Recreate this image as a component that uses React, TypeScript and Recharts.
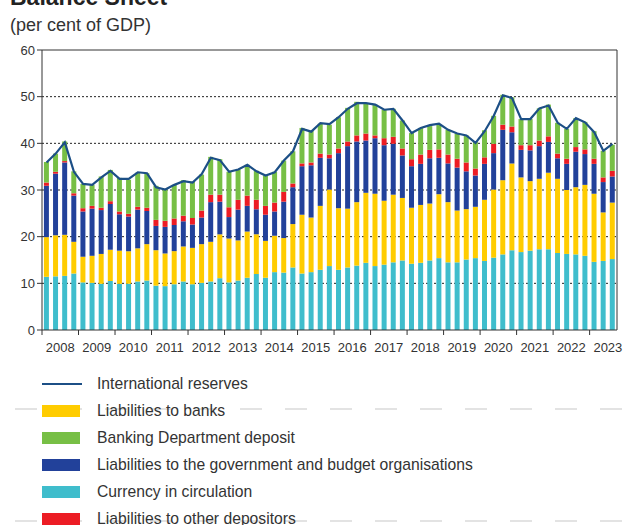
import React from "react";
import {
  ComposedChart,
  Bar,
  Line,
  XAxis,
  YAxis,
  CartesianGrid,
  ReferenceLine,
} from "recharts";

const years = [2008, 2009, 2010, 2011, 2012, 2013, 2014, 2015, 2016, 2017, 2018, 2019, 2020, 2021, 2022, 2023];
const quarters: string[] = [];
years.forEach((y) => {
  const n = y === 2023 ? 3 : 4;
  for (let q = 1; q <= n; q++) quarters.push(`${y}Q${q}`);
});

// per cent of GDP
const currency = [
  11.4, 11.5, 11.6, 12.1, 10.2, 10.1, 9.9, 10.5, 9.9, 9.9, 10.4, 10.6, 9.5, 9.4, 9.8, 10.4,
  9.8, 10.1, 10.4, 11.1, 10.2, 10.6, 11.2, 12.0, 11.2, 12.4, 12.3, 13.4, 12.1, 12.4, 12.9, 13.7,
  12.9, 13.4, 13.8, 14.4, 13.7, 14.0, 14.5, 14.9, 14.2, 14.4, 14.9, 15.4, 14.5, 14.5, 15.1, 15.4,
  14.8, 15.5, 16.2, 17.1, 16.7, 17.0, 17.3, 17.3, 16.5, 16.3, 16.2, 15.9, 14.6, 14.8, 15.2,
];
const banks = [
  8.5, 8.8, 8.8, 6.8, 5.5, 5.8, 6.4, 6.7, 7.1, 7.0, 7.1, 7.8, 7.6, 7.0, 7.1, 7.5,
  7.8, 8.3, 8.5, 9.4, 9.4, 8.6, 9.9, 8.5, 7.9, 7.8, 7.4, 9.3, 12.6, 11.7, 13.7, 16.4,
  13.2, 12.6, 13.6, 15.0, 15.5, 13.7, 14.5, 13.4, 12.0, 12.4, 12.2, 13.7, 12.9, 11.1, 10.8, 11.0,
  13.1, 14.6, 15.9, 18.6, 16.0, 14.9, 15.1, 16.4, 15.9, 13.7, 14.4, 15.2, 14.6, 10.4, 12.1,
];
const government = [
  11.0, 13.2, 15.5, 9.9, 9.7, 10.1, 9.4, 9.8, 7.8, 7.4, 8.3, 7.1, 5.2, 5.7, 5.6, 5.4,
  5.0, 5.7, 8.5, 7.0, 4.6, 6.6, 5.5, 5.4, 5.6, 5.2, 7.8, 7.9, 10.4, 11.2, 10.3, 6.7,
  11.8, 13.4, 13.0, 11.2, 11.9, 11.9, 10.9, 9.1, 8.9, 8.8, 9.7, 7.8, 8.3, 9.2, 8.1, 6.7,
  7.7, 7.8, 10.8, 6.7, 5.9, 6.6, 7.0, 6.6, 4.4, 5.6, 7.6, 6.6, 6.4, 6.5, 5.6,
];
const otherDepositors = [
  0.7, 0.4, 0.3, 0.5, 0.7, 0.6, 0.5, 0.6, 0.6, 0.6, 0.6, 0.7, 1.3, 1.3, 1.4, 1.2,
  1.4, 1.5, 1.6, 1.5, 2.1, 2.1, 2.2, 2.0, 1.9, 1.9, 2.1, 0.8, 0.6, 0.6, 0.9, 0.8,
  1.0, 1.0, 1.3, 1.5, 0.6, 1.5, 1.5, 1.5, 1.5, 2.0, 1.8, 1.8, 1.9, 1.9, 1.9, 1.5,
  1.4, 2.0, 1.1, 1.2, 1.0, 1.1, 1.2, 1.2, 1.0, 1.1, 1.0, 1.0, 1.1, 1.0, 1.2,
];
const bankingDept = [
  4.4, 3.9, 4.2, 4.7, 5.2, 4.5, 6.7, 6.7, 7.2, 7.3, 7.3, 7.4, 7.3, 6.7, 7.2, 7.6,
  7.8, 7.7, 8.1, 7.6, 7.6, 6.5, 6.6, 6.2, 6.5, 6.6, 6.7, 6.9, 7.6, 6.8, 6.4, 6.4,
  6.7, 7.2, 7.2, 6.5, 6.6, 6.1, 6.0, 6.0, 5.6, 5.7, 5.1, 5.4, 5.3, 5.4, 5.8, 5.7,
  5.8, 6.0, 6.4, 6.3, 5.6, 5.6, 6.9, 6.8, 6.6, 6.4, 6.2, 5.9, 5.9, 5.7, 5.6,
];
const reserves = [
  35.9, 37.8, 40.2, 33.9, 31.3, 31.1, 32.7, 34.1, 32.4, 32.4, 33.8, 33.6, 30.6, 30.1, 31.1, 31.9,
  31.6, 33.4, 36.9, 36.4, 33.9, 34.4, 35.4, 34.0, 33.1, 33.8, 36.3, 38.3, 43.1, 42.5, 44.3, 44.1,
  45.6, 47.4, 48.6, 48.6, 48.3, 47.2, 47.4, 44.9, 42.2, 43.3, 43.9, 44.2, 42.9, 42.1, 41.7, 40.1,
  42.6, 45.9, 50.3, 49.7, 45.2, 45.2, 47.5, 48.1, 44.4, 43.1, 45.4, 44.5, 42.4, 38.4, 39.9,
];

const yTicks = [0, 10, 20, 30, 40, 50, 60];

const data = quarters.map((q, i) => ({
  q,
  currency: currency[i],
  banks: banks[i],
  government: government[i],
  other: otherDepositors[i],
  bankingDept: bankingDept[i],
  reserves: reserves[i],
}));

const FONT = '"Liberation Sans", Arial, sans-serif';
const TXT = "#333";
const PLOT_LEFT = 42;
const PLOT_RIGHT = 617;
const BAND = (PLOT_RIGHT - PLOT_LEFT) / quarters.length;

const legendItems = [
  { label: "International reserves", color: "#1c4f86", line: true },
  { label: "Liabilities to banks", color: "#ffcc00" },
  { label: "Banking Department deposit", color: "#77bf45" },
  { label: "Liabilities to the government and budget organisations", color: "#22419a" },
  { label: "Currency in circulation", color: "#3fbdcc" },
  { label: "Liabilities to other depositors", color: "#ec1c24" },
];

function YearTick(props: any) {
  const { x, y, payload } = props;
  const q: string = quarters[payload.index] ?? "";
  if (!q.endsWith("Q1")) return <g />;
  const x0 = x - BAND / 2;
  return (
    <g>
      <line x1={x0} x2={x0} y1={y} y2={y + 5} stroke={TXT} strokeWidth={1} />
      <text x={x0 + 2 * BAND} y={y + 22} textAnchor="middle" fontSize={13} fill={TXT} fontFamily={FONT}>
        {q.slice(0, 4)}
      </text>
    </g>
  );
}

export default function App() {
  return (
    <div style={{ position: "absolute", left: 0, top: 0, width: 637, height: 525, overflow: "hidden", background: "#fff", fontFamily: FONT }}>
      <div style={{ position: "absolute", left: 10, top: -14, fontSize: 23, fontWeight: "bold", color: "#222", lineHeight: "23px" }}>
        Balance Sheet
      </div>
      <div style={{ position: "absolute", left: 10, top: 15, fontSize: 18, color: TXT, lineHeight: "20px" }}>
        (per cent of GDP)
      </div>
      <div style={{ position: "absolute", left: 0, top: 0 }}>
        <ComposedChart
          width={637}
          height={360}
          data={data}
          margin={{ top: 50, right: 0, bottom: 0, left: 0 }}
          barCategoryGap="21%"
        >
          <CartesianGrid vertical={false} stroke="#222" strokeDasharray="2 2" horizontalValues={[10, 20, 30, 40, 50]} yAxisId="left" />
          <XAxis
            dataKey="q"
            interval={0}
            height={30}
            tickSize={0}
            tickMargin={0}
            tick={<YearTick />}
            axisLine={{ stroke: TXT }}
            tickLine={false}
          />
          <YAxis
            yAxisId="left"
            domain={[0, 60]}
            ticks={yTicks}
            width={42}
            tick={{ fontSize: 13, fill: TXT, fontFamily: FONT }}
            axisLine={{ stroke: TXT }}
            tickLine={{ stroke: TXT }}
            tickSize={5}
            tickMargin={2}
          />
          <YAxis
            yAxisId="right"
            orientation="right"
            domain={[0, 60]}
            ticks={yTicks}
            width={20}
            tick={{ fontSize: 13, fill: TXT, fontFamily: FONT, textAnchor: "start" }}
            axisLine={{ stroke: TXT }}
            tickLine={{ stroke: TXT }}
            tickSize={5}
            tickMargin={2}
          />
          <ReferenceLine yAxisId="left" y={60} stroke={TXT} strokeWidth={1} />
          <Bar yAxisId="left" dataKey="currency" stackId="s" fill="#3fbdcc" isAnimationActive={false} />
          <Bar yAxisId="left" dataKey="banks" stackId="s" fill="#ffcc00" isAnimationActive={false} />
          <Bar yAxisId="left" dataKey="government" stackId="s" fill="#22419a" isAnimationActive={false} />
          <Bar yAxisId="left" dataKey="other" stackId="s" fill="#ec1c24" isAnimationActive={false} />
          <Bar yAxisId="left" dataKey="bankingDept" stackId="s" fill="#77bf45" isAnimationActive={false} />
          <Line
            yAxisId="left"
            dataKey="reserves"
            type="linear"
            stroke="#1c4f86"
            strokeWidth={2.2}
            dot={false}
            isAnimationActive={false}
          />
        </ComposedChart>
      </div>
      <svg style={{ position: "absolute", left: 0, top: 0 }} width={637} height={525}>
        <line x1={15} x2={632} y1={409} y2={409} stroke="#c8c8c8" strokeWidth={1.2} strokeDasharray="22 23" />
        <line x1={15} x2={632} y1={521} y2={521} stroke="#c8c8c8" strokeWidth={1.2} strokeDasharray="22 23" />
      </svg>
      {legendItems.map((it, i) => {
        const cy = 384 + 27 * i;
        return (
          <div key={it.label} style={{ position: "absolute", left: 0, top: cy - 11, height: 22, width: 637 }}>
            {it.line ? (
              <div style={{ position: "absolute", left: 42, top: 10, width: 40, height: 2, background: it.color }} />
            ) : (
              <div style={{ position: "absolute", left: 42, top: 5, width: 38, height: 12, background: it.color }} />
            )}
            <div style={{ position: "absolute", left: 97, top: 0, fontSize: 15.7, lineHeight: "22px", color: TXT, whiteSpace: "nowrap" }}>
              {it.label}
            </div>
          </div>
        );
      })}
    </div>
  );
}
